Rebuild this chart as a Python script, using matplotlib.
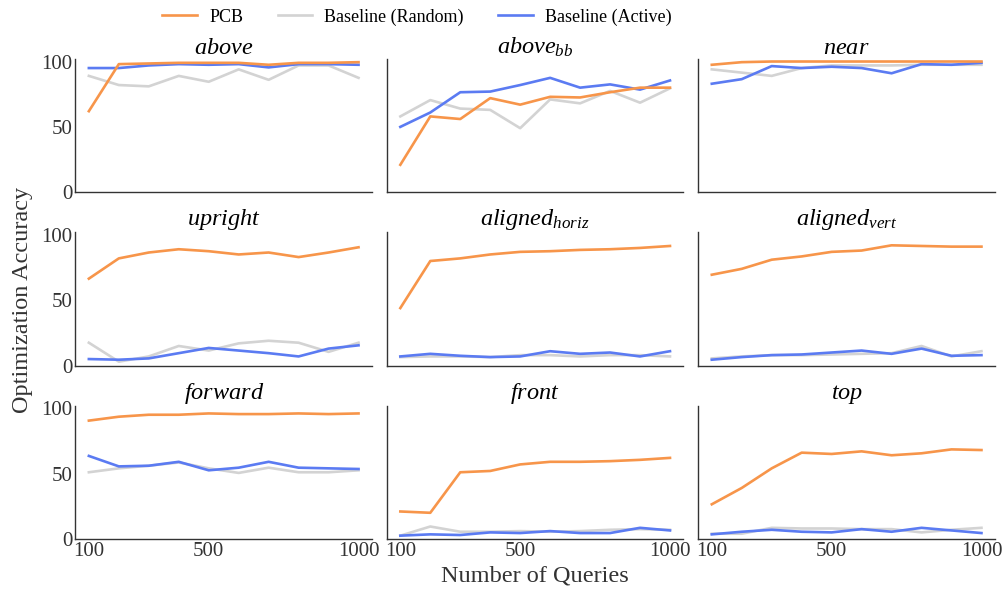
import numpy as np
import matplotlib
matplotlib.use('Agg')
import matplotlib.pyplot as plt

plt.rcParams['font.family'] = ['Liberation Serif', 'DejaVu Serif']
plt.rcParams['mathtext.fontset'] = 'custom'
plt.rcParams['mathtext.rm'] = 'Liberation Serif'
plt.rcParams['mathtext.it'] = 'Liberation Serif:italic'

queries = [100, 200, 300, 400, 500, 600, 700, 800, 900, 1000]

titles = [r'$above$', r'$above_{bb}$', r'$near$',
          r'$upright$', r'$aligned_{horiz}$', r'$aligned_{vert}$',
          r'$forward$', r'$front$', r'$top$']

pcb = [
    [62, 98, 98.5, 99, 99, 99, 97.5, 99, 99, 99.5],
    [21, 58, 56, 72, 67, 73, 72.5, 76.5, 80, 80],
    [97.5, 99.5, 100, 100, 100, 100, 100, 100, 100, 100],
    [66.5, 82, 86.5, 89, 87.5, 85, 86.5, 83, 86.5, 90.5],
    [44, 80, 82, 85, 87, 87.5, 88.5, 89, 90, 91.5],
    [69.5, 74, 81, 83.5, 87, 88, 92, 91.5, 91, 91],
    [90.5, 93.5, 95, 95, 96, 95.5, 95.5, 96, 95.5, 96],
    [21, 20, 51, 52, 57, 59, 59, 59.5, 60.5, 62],
    [26.5, 39, 54, 66, 65, 67, 64, 65.5, 68.5, 68],
]

random_base = [
    [89, 82, 81, 89, 84.5, 94, 86, 97, 97, 87.5],
    [58, 70.5, 64, 63, 49, 71, 68, 77.5, 68.5, 79.5],
    [94, 91.5, 89, 95, 97, 97, 97, 97.5, 97.5, 97.5],
    [17.5, 3, 7, 15, 11.5, 17, 19, 17.5, 10.5, 17.5],
    [6.5, 7, 7, 6.5, 8, 8, 7, 8, 8, 7],
    [5.5, 7, 8, 8, 8.5, 9, 9.5, 15, 7, 11],
    [51, 54, 56, 58.5, 54, 50.5, 54.5, 51, 51, 52.5],
    [2.5, 9.5, 5.5, 5.5, 6, 5.5, 6, 7, 7.5, 7],
    [4, 4, 8.5, 8, 8, 7.5, 7.5, 5, 7, 8.5],
]

active_base = [
    [95, 95, 97, 98, 97.5, 98, 95.5, 98, 98, 97.5],
    [50, 61, 76.5, 77, 82, 87.5, 80, 82.5, 78.5, 85.5],
    [83, 86.5, 96.5, 95, 96, 95, 91, 98, 97.5, 99],
    [5, 4.5, 5.5, 9.5, 13.5, 11.5, 9.5, 7, 13, 15.5],
    [7, 9, 7.5, 6.5, 7, 11, 9, 10, 7, 11],
    [4.5, 6.5, 8, 8.5, 10, 11.5, 9, 13, 7.5, 8],
    [63.5, 55.5, 56, 59, 52.5, 54.5, 59, 54.5, 54, 53.5],
    [2.5, 3.5, 3, 5, 4.5, 6, 4.5, 4.5, 8.5, 6.5],
    [3.5, 5.5, 7, 5.5, 5, 7.5, 5.5, 8.5, 6.5, 4.5],
]

orange = '#F7954A'
grey = '#D3D3D3'
blue = '#5B7BF2'

fig, axes = plt.subplots(3, 3, figsize=(10.05, 5.89), dpi=100,
                         sharex=True, sharey=True)
fig.subplots_adjust(left=0.075, right=0.99, top=0.90, bottom=0.085,
                    wspace=0.05, hspace=0.30)

for i, ax in enumerate(axes.flat):
    l_rand, = ax.plot(queries, random_base[i], color=grey, lw=1.9)
    l_act, = ax.plot(queries, active_base[i], color=blue, lw=1.9)
    l_pcb, = ax.plot(queries, pcb[i], color=orange, lw=1.9)
    ax.set_title(titles[i], fontsize=17.5, pad=1)
    ax.set_ylim(0, 102)
    ax.set_xticks([100, 500, 1000])
    ax.set_yticks([0, 50, 100])
    ax.tick_params(length=0, labelsize=15, colors='#333333', pad=2)
    for side in ['top', 'right']:
        ax.spines[side].set_visible(False)
    for side in ['left', 'bottom']:
        ax.spines[side].set_color('#333333')
        ax.spines[side].set_linewidth(1.0)

fig.legend([l_pcb, l_rand, l_act],
           ['PCB', 'Baseline (Random)', 'Baseline (Active)'],
           loc='center', bbox_to_anchor=(0.415, 0.971), ncol=3,
           frameon=False, fontsize=13, handlelength=1.9, columnspacing=1.9,
           handletextpad=0.7, borderaxespad=0, borderpad=0)

fig.text(0.022, 0.49, 'Optimization Accuracy', rotation=90,
         ha='center', va='center', fontsize=17.5, color='#333333')
fig.text(0.532, 0.022, 'Number of Queries', ha='center', va='center',
         fontsize=17.5, color='#333333')

fig.savefig('out.png', dpi=100)
